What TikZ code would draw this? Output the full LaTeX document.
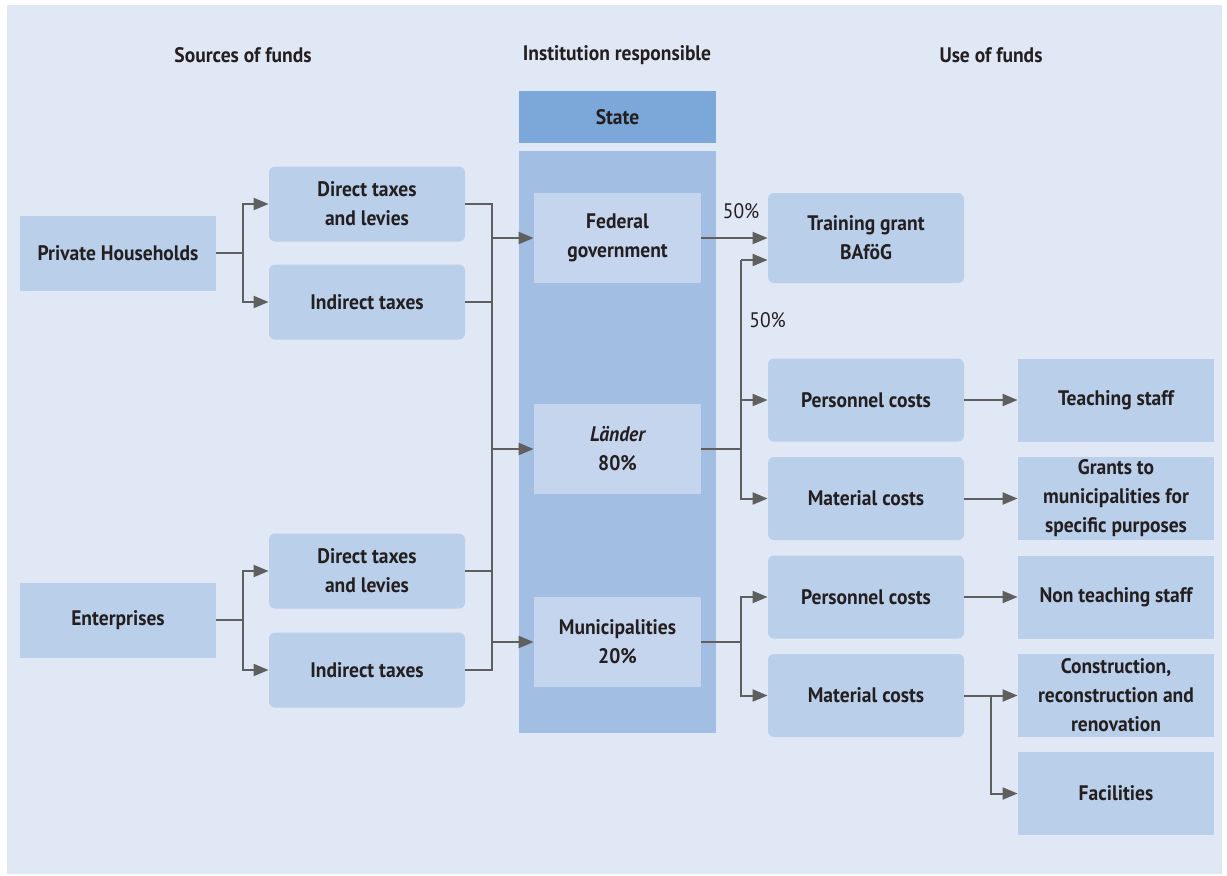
\documentclass[tikz,border=0pt]{standalone}
\usepackage{fontspec}
\setmainfont[FakeStretch=0.93]{PT Sans}
\usetikzlibrary{arrows.meta}
\definecolor{bgc}{HTML}{E1E8F5}
\definecolor{boxc}{HTML}{BACFEA}
\definecolor{colc}{HTML}{A2BEE2}
\definecolor{headc}{HTML}{7BA7D9}
\definecolor{innc}{HTML}{C5D5EE}
\definecolor{linec}{HTML}{5F5F5F}
\definecolor{txtc}{HTML}{231F20}
\begin{document}
\begin{tikzpicture}[x=0.5pt,y=-0.5pt,
  every node/.style={text=txtc, font=\fontsize{10.5}{14.5}\selectfont\bfseries},
  sq/.style={fill=boxc, minimum width=98pt, minimum height=41.5pt, inner sep=0pt, align=center},
  sqs/.style={sq, minimum height=37.5pt},
  rd/.style={sq, rounded corners=3pt},
  rds/.style={sqs, rounded corners=3pt},
  inn/.style={fill=innc, minimum width=83.5pt, minimum height=45pt, inner sep=0pt, align=center},
  hdr/.style={inner sep=0pt},
  ln/.style={draw=linec, line width=1pt},
  arr/.style={ln, -{Triangle[length=7.5pt,width=6pt]}},
  pct/.style={inner sep=0pt, font=\fontsize{10.5}{12}\selectfont}
]
\useasboundingbox (0,0) rectangle (1227,875);
\fill[white] (0,0) rectangle (1227,875);
\fill[bgc] (7,5) rectangle (1222,874);

% headers
\node[hdr] (h1) at (243,55) {Sources of funds};
\node[hdr] (h2) at (617,55) {Institution responsible};
\node[hdr] (h3) at (991,55) {Use of funds};

% state column
\node[fill=headc, minimum width=98.5pt, minimum height=26pt, inner sep=0pt] (state) at (617.5,117) {State};
\node[fill=colc, minimum width=98.5pt, minimum height=291pt, inner sep=0pt] (col) at (617.5,442) {};
\node[inn] (fed) at (617.5,238) {Federal\\government};
\node[inn] (lae) at (617.5,449) {\itshape Länder\\80\%};
\node[inn] (mun) at (617.5,642) {Municipalities\\20\%};

% sources
\node[sqs] (ph) at (118,253) {Private Households};
\node[sqs] (ent) at (118,620) {Enterprises};
\node[rds] (dt1) at (367,204) {Direct taxes\\and levies};
\node[rds] (it1) at (367,302) {Indirect taxes};
\node[rds] (dt2) at (367,571) {Direct taxes\\and levies};
\node[rds] (it2) at (367,670) {Indirect taxes};

% uses
\node[rd, minimum height=45pt] (tg) at (866,238) {Training grant\\BAföG};
\node[rd] (pc1) at (866,400) {Personnel costs};
\node[rd] (mc1) at (866,498.5) {Material costs};
\node[rd] (pc2) at (866,597) {Personnel costs};
\node[rd] (mc2) at (866,695.5) {Material costs};
\node[sq] (ts) at (1116,400.5) {Teaching staff};
\node[sq] (gm) at (1116,498.5) {Grants to\\municipalities for\\specific purposes};
\node[sq] (nts) at (1116,597) {Non teaching staff};
\node[sq] (con) at (1116,695.5) {Construction,\\reconstruction and\\renovation};
\node[sq] (fac) at (1116,793.5) {Facilities};

% source branches
\coordinate (bph) at (243,253);
\draw[ln] (ph.east) -- (bph);
\draw[arr] (bph) |- (dt1.west);
\draw[arr] (bph) |- (it1.west);
\coordinate (bent) at (243,620);
\draw[ln] (ent.east) -- (bent);
\draw[arr] (bent) |- (dt2.west);
\draw[arr] (bent) |- (it2.west);

% trunk
\coordinate (tTop) at (492,204);
\coordinate (tBot) at (492,670);
\draw[ln] (dt1.east) -- (tTop) -- (tBot) -- (it2.east);
\draw[ln] (it1.east) -- (it1.east -| tTop);
\draw[ln] (dt2.east) -- (dt2.east -| tTop);
\draw[arr] (tTop |- fed.west) -- (fed.west);
\draw[arr] (tTop |- lae.west) -- (lae.west);
\draw[arr] (tTop |- mun.west) -- (mun.west);

% federal
\draw[arr] (fed.east) -- (fed.east -| tg.west) node[pct, pos=0.6, above=9pt] (p1) {50\%};

% laender
\coordinate (bl) at (741,449);
\coordinate (blt) at (741,260);
\draw[ln] (lae.east) -- (bl);
\draw[ln] (bl) -- (blt);
\draw[arr] (blt) -- (blt -| tg.west);
\node[pct, anchor=west] (p2) at (749,320) {50\%};
\draw[arr] (bl) |- (pc1.west);
\draw[arr] (bl) |- (mc1.west);

% municipalities
\coordinate (bm) at (741,642);
\draw[ln] (mun.east) -- (bm);
\draw[arr] (bm) |- (pc2.west);
\draw[arr] (bm) |- (mc2.west);

% right
\draw[arr] (pc1.east) -- (pc1.east -| ts.west);
\draw[arr] (mc1.east) -- (mc1.east -| gm.west);
\draw[arr] (pc2.east) -- (pc2.east -| nts.west);
\coordinate (bc) at (991,695.5);
\draw[arr] (mc2.east) -- (con.west);
\draw[arr] (bc) |- (fac.west);
\end{tikzpicture}
\end{document}
